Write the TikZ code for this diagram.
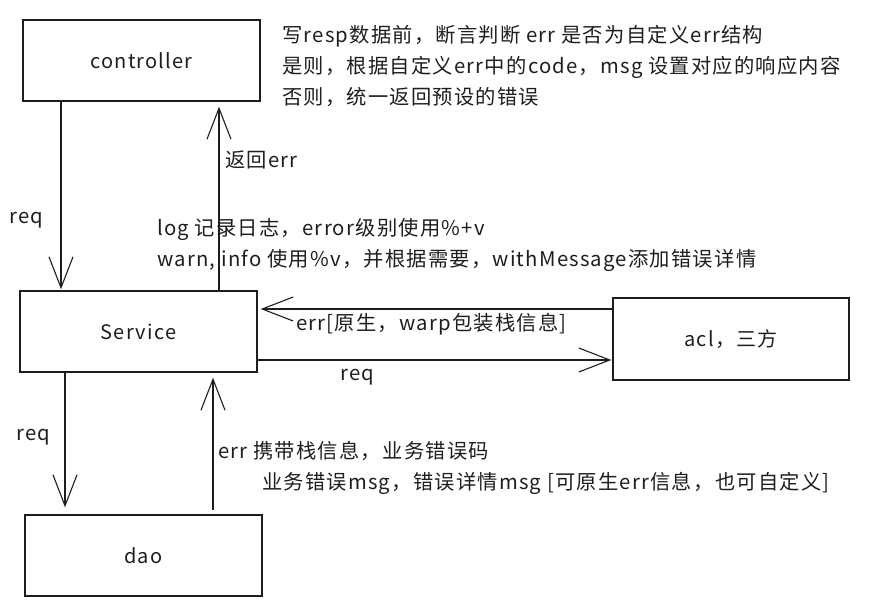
\documentclass[tikz,border=0pt]{standalone}
\usepackage{fontspec}
\setmainfont{Noto Sans CJK SC}[LetterSpace=6]
\usetikzlibrary{arrows.meta,calc}
\definecolor{ink}{HTML}{1E1E1E}
\begin{document}
\begin{tikzpicture}[x=1pt,y=-1pt,
  box/.style={draw=ink,line width=1.3pt,rectangle,inner sep=0pt,text=ink,
    font=\fontsize{20}{24}\selectfont},
  arr/.style={draw=ink,line width=1.1pt,-{Straight Barb[length=31pt,width=24pt,line width=1.1pt]}},
  lbl/.style={inner sep=0pt,text=ink,align=left,font=\fontsize{20.3}{31}\selectfont}]
\useasboundingbox (0,0) rectangle (876,616);
% boxes
\node[box,minimum width=237pt,minimum height=81pt] (ctrl) at (141.5,60.5) {controller};
\node[box,minimum width=237pt,minimum height=81pt] (svc) at (138.5,331.5) {Service};
\node[box,minimum width=236pt,minimum height=82pt] (acl) at (731,339) {acl，三方};
\node[box,minimum width=237pt,minimum height=81pt] (dao) at (143.5,555.5) {dao};
% anchor helpers
\coordinate (xa) at (61,0);
\coordinate (xb) at (219,0);
\coordinate (xc) at (65,0);
\coordinate (xd) at (213,0);
\coordinate (ya) at (0,309);
\coordinate (yb) at (0,360);
% connectors
\draw[arr] (ctrl.south -| xa) -- ($(svc.north -| xa)+(0,-1)$);
\draw[arr] (svc.north -| xb) -- ($(ctrl.south -| xb)+(0,5)$);
\draw[arr] (svc.south -| xc) -- ($(dao.north -| xc)+(0,-7)$);
\draw[arr] ($(dao.north -| xd)+(0,-4)$) -- ($(svc.south -| xd)+(0,5)$);
\draw[arr] (acl.west |- ya) -- ($(svc.east |- ya)+(3,0)$);
\draw[arr] (svc.east |- yb) -- ($(acl.west |- yb)+(-1,0)$);
% labels
\node[lbl,anchor=north west] (note) at (282,25) {写resp数据前，断言判断 err 是否为自定义err结构\\是则，根据自定义err中的code，msg 设置对应的响应内容\\否则，统一返回预设的错误};
\node[lbl,anchor=west] (ret) at (225,160) {返回err};
\node[lbl,anchor=west] (req1) at (9,220) {req};
\node[lbl,anchor=north west] (log) at (157,218) {log 记录日志，error级别使用\%+v\\warn, info 使用\%v，并根据需要，withMessage添加错误详情};
\node[lbl,anchor=west] (errw) at (296,324) {err[原生，warp包装栈信息]};
\node[lbl,anchor=west] (req2) at (340,377) {req};
\node[lbl,anchor=west] (req3) at (16,437) {req};
\node[lbl,anchor=north west] (errd) at (218,441) {err 携带栈信息，业务错误码\\\hspace*{44pt}业务错误msg，错误详情msg [可原生err信息，也可自定义]};
\end{tikzpicture}
\end{document}
